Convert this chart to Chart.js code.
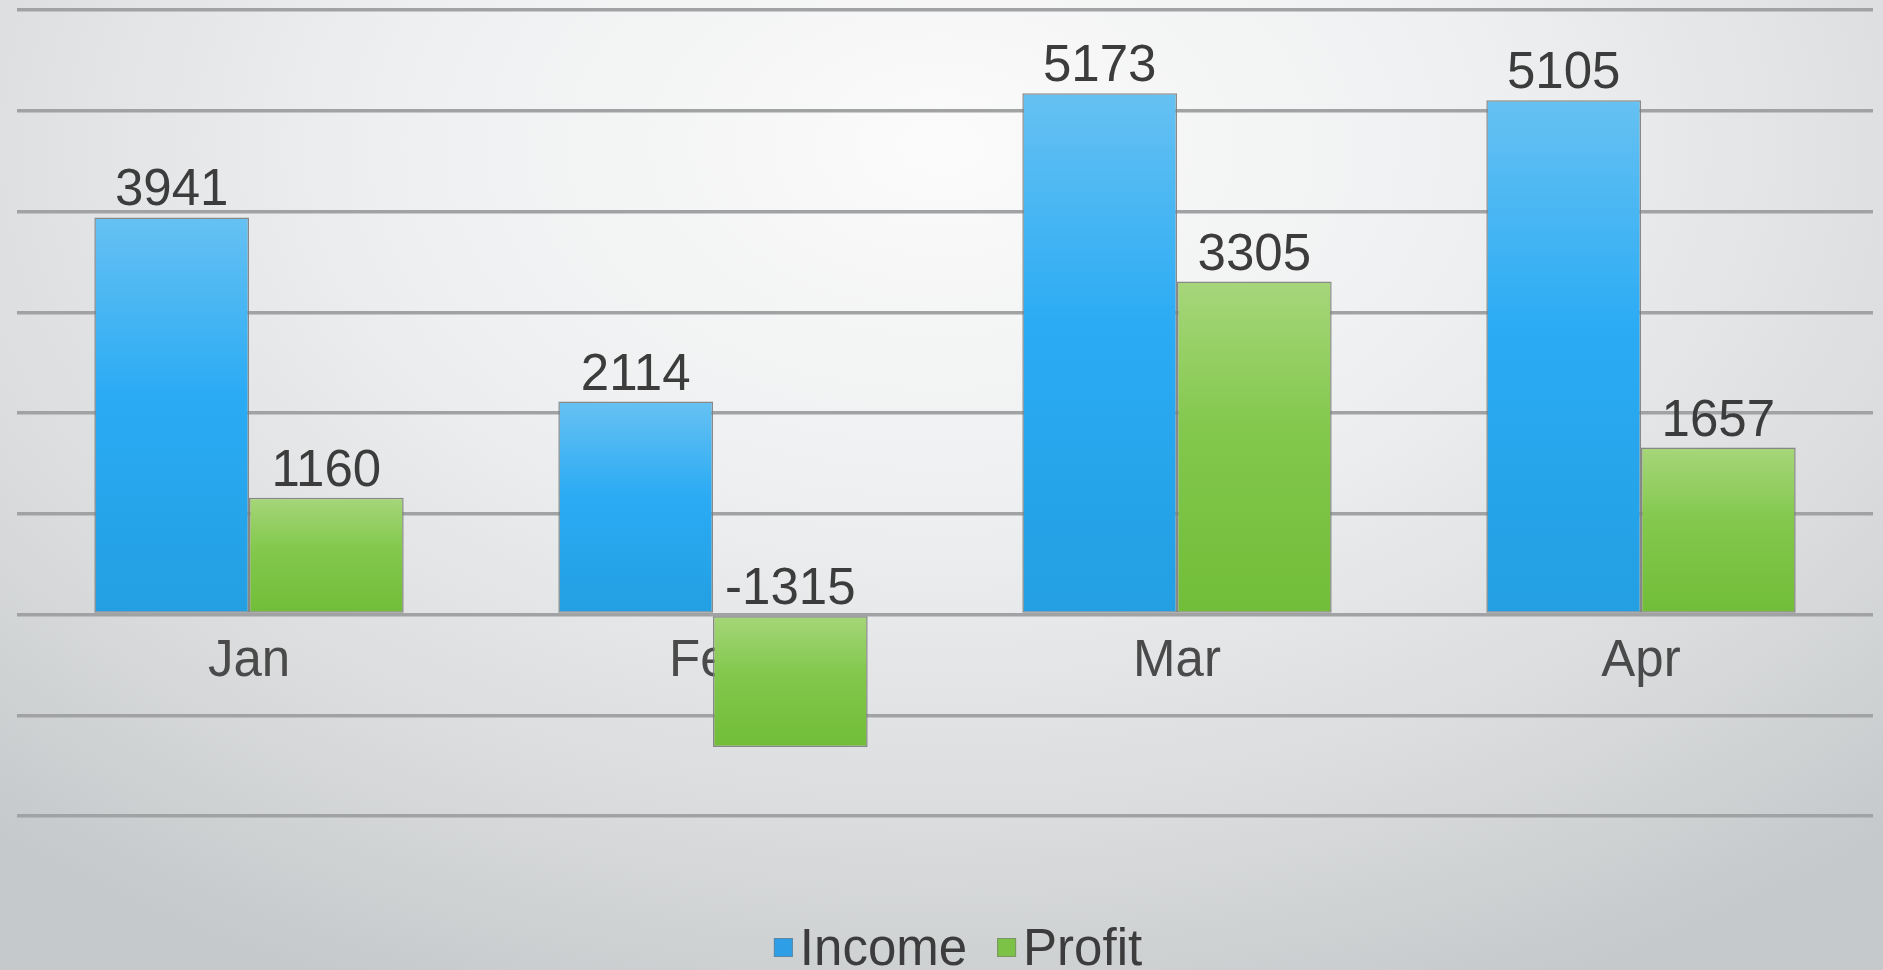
<!DOCTYPE html>
<html>
<head>
<meta charset="utf-8">
<script src="https://cdn.jsdelivr.net/npm/chart.js@4.4.1/dist/chart.umd.min.js"></script>
<style>
  html, body { margin: 0; padding: 0; width: 1883px; height: 970px; overflow: hidden; }
  body {
    background: radial-gradient(ellipse 75% 95% at 50% 15%, #fbfbfb 0%, #eeeff0 40%, #d9dbdc 75%, #c6c9cb 100%);
  }
  #wrap { position: relative; width: 1883px; height: 970px; }
</style>
</head>
<body>
<div id="wrap"><canvas id="chart"></canvas></div>
<script>
// chart values
const months = ['Jan', 'Feb', 'Mar', 'Apr'];
const income = [3941, 2114, 5173, 5105];
const profit = [1160, -1315, 3305, 1657];
const seriesNames = ['Income', 'Profit'];

const FONT = '"Liberation Sans", Arial, sans-serif';

// gradient per bar, light on top edge, full colour lower down
function barFill(stops) {
    return function(c) {
        const chart = c.chart;
        const y = chart.scales.y;
        if (!y || c.raw == null) return stops[1];
        const a = y.getPixelForValue(c.raw);
        const b = y.getPixelForValue(0);
        const top = Math.min(a, b), bottom = Math.max(a, b);
        if (!isFinite(top) || bottom - top < 1) return stops[1];
        const g = chart.ctx.createLinearGradient(0, top, 0, bottom);
        g.addColorStop(0, stops[0]);
        g.addColorStop(0.45, stops[1]);
        g.addColorStop(1, stops[2]);
        return g;
    };
}

const blueStops = ['#66c1f2', '#2aabf4', '#239fe2'];
const greenStops = ['#a6d67a', '#82c84c', '#71bd38'];

// value labels sit just above the top edge of every bar (also for the negative one)
const valueLabels = {
    id: 'valueLabels',
    afterDatasetsDraw(chart) {
        const ctx = chart.ctx;
        ctx.save();
        ctx.font = '51px ' + FONT;
        ctx.fillStyle = '#3c3c3c';
        ctx.textAlign = 'center';
        ctx.textBaseline = 'alphabetic';
        chart.data.datasets.forEach((ds, i) => {
            chart.getDatasetMeta(i).data.forEach((bar, j) => {
                const top = Math.min(bar.y, bar.base);
                ctx.fillText(String(ds.data[j]), bar.x, top - 12);
            });
        });
        ctx.restore();
    }
};

// legend drawn small-box style, like the office chart
const bottomLegend = {
    id: 'bottomLegend',
    afterDraw(chart) {
        const ctx = chart.ctx;
        ctx.save();
        ctx.font = '51px ' + FONT;
        ctx.textBaseline = 'alphabetic';
        const box = 19, gapBox = 7, gapItem = 30;
        const colors = ['#2e9fe6', '#7cc246'];
        let total = 0;
        const widths = seriesNames.map(n => ctx.measureText(n).width);
        widths.forEach(w => { total += box + gapBox + w; });
        total += gapItem * (seriesNames.length - 1);
        let x = 958 - total / 2;
        const baseY = 965;
        seriesNames.forEach((n, i) => {
            ctx.fillStyle = colors[i];
            ctx.fillRect(x, baseY - 27, box, box);
            ctx.strokeStyle = 'rgba(120,120,120,0.6)';
            ctx.lineWidth = 1;
            ctx.strokeRect(x + 0.5, baseY - 26.5, box - 1, box - 1);
            x += box + gapBox;
            ctx.fillStyle = '#3c3c3c';
            ctx.fillText(n, x, baseY);
            x += widths[i] + gapItem;
        });
        ctx.restore();
    }
};

document.addEventListener('DOMContentLoaded', function() {
    const ctx = document.getElementById('chart').getContext('2d');
    new Chart(ctx, {
        type: 'bar',
        data: {
            labels: months,
            datasets: [{
                label: seriesNames[0],
                data: income,
                backgroundColor: barFill(blueStops),
                borderColor: 'rgba(125,125,125,0.9)',
                borderWidth: 1.5,
                borderSkipped: false
            }, {
                label: seriesNames[1],
                data: profit,
                backgroundColor: barFill(greenStops),
                borderColor: 'rgba(125,125,125,0.9)',
                borderWidth: 1.5,
                borderSkipped: false
            }]
        },
        options: {
            responsive: true,
            maintainAspectRatio: false,
            animation: false,
            categoryPercentage: 2 / 3,
            barPercentage: 1,
            layout: {
                padding: { left: 17, right: 10, top: 10, bottom: 154 }
            },
            plugins: {
                legend: { display: false },
                tooltip: { enabled: false }
            },
            scales: {
                x: {
                    position: { y: 0 },
                    grid: { display: false },
                    border: { display: false },
                    ticks: {
                        color: '#4a4a4a',
                        font: { family: FONT, size: 51 },
                        padding: 9
                    }
                },
                y: {
                    min: -2000,
                    max: 6000,
                    ticks: { stepSize: 1000, display: false },
                    grid: {
                        color: '#a0a2a3',
                        lineWidth: 3.5,
                        drawTicks: false
                    },
                    border: { display: false },
                    afterFit: s => { s.width = 0; }
                }
            }
        },
        plugins: [valueLabels, bottomLegend]
    });
});
</script>
</body>
</html>
